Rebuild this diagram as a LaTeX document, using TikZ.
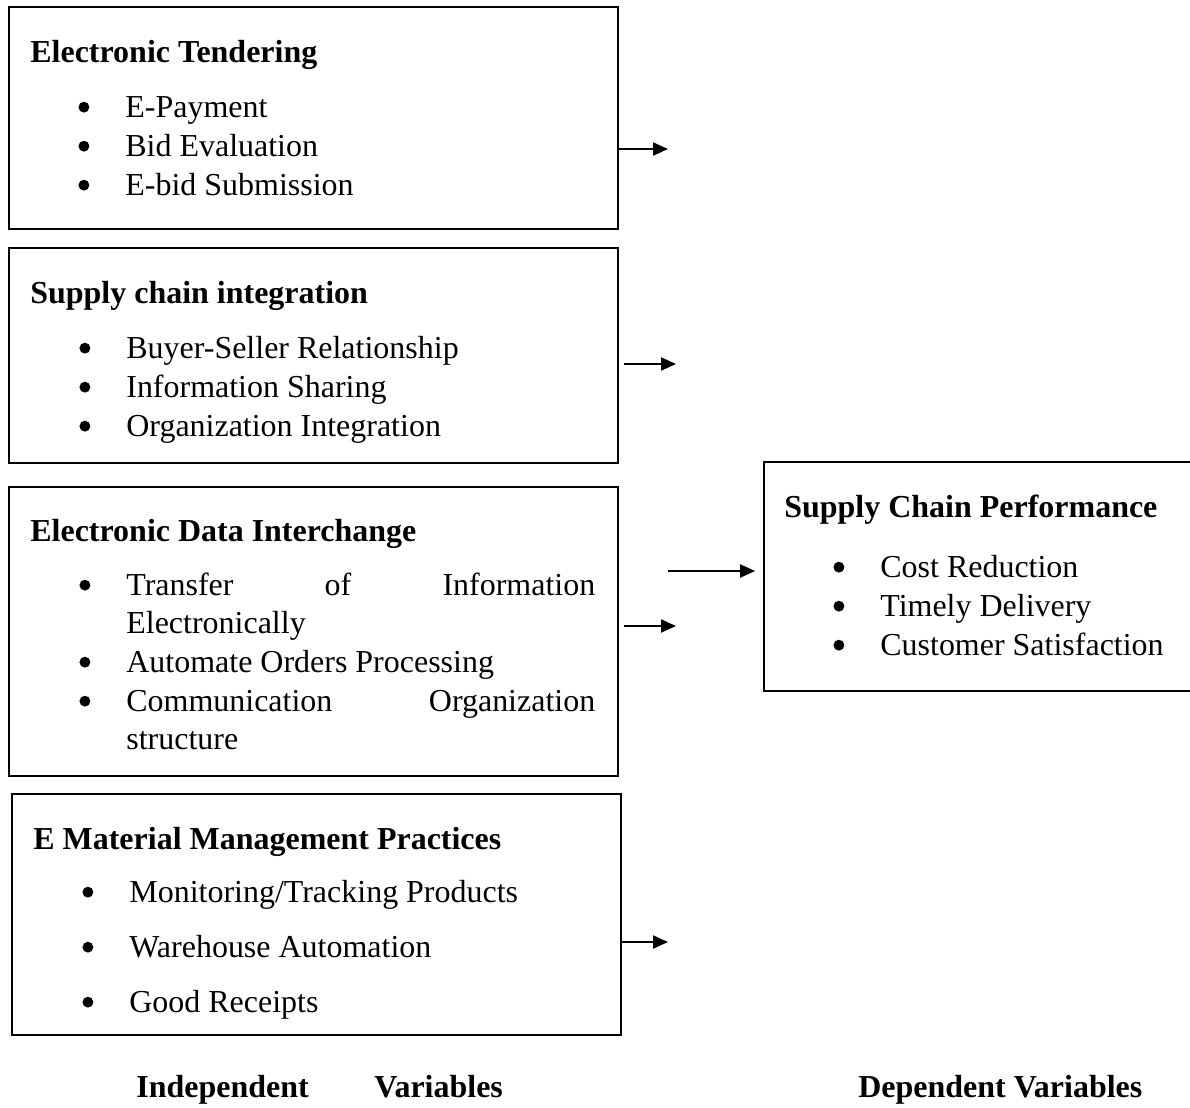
\documentclass[tikz,border=0pt]{standalone}
\usepackage{fontspec}
\setmainfont{Liberation Serif}
\usetikzlibrary{arrows.meta, positioning, fit}
\newcommand{\bul}{\llap{\tikz[baseline=-5.6pt]\fill (0,0) circle (3.1pt);\hspace{0.72cm}}}
\begin{document}
\begin{tikzpicture}[
        x=0.02cm, y=-0.02cm,
        every node/.style={font=\fontsize{18.2}{21.9}\selectfont},
        box/.style={rectangle, draw=black, line width=1pt, inner sep=0pt},
        title/.style={anchor=base west, inner sep=0pt, font=\fontsize{18.2}{21.9}\selectfont\bfseries},
        item/.style={anchor=base west, inner sep=0pt},
        arr/.style={-{Triangle[length=0.3cm, width=0.26cm]}, line width=1.2pt}
    ]
        \useasboundingbox (0,0) rectangle (1190,1107);

        % independent variables
        \node[box, fit={(9,7) (618,229)}] (et) {};
        \node[title] (ettitle) at (30,62) {Electronic Tendering};
        \node[item] (et1) at (125,117) {\bul E-Payment};
        \node[item] (et2) at (125,156) {\bul Bid Evaluation};
        \node[item] (et3) at (125,195) {\bul E-bid Submission};

        \node[box, fit={(9,248) (618,463)}] (sci) {};
        \node[title] (scititle) at (30,303) {Supply chain integration};
        \node[item] (sci1) at (126,358) {\bul Buyer-Seller Relationship};
        \node[item] (sci2) at (126,397) {\bul Information Sharing};
        \node[item] (sci3) at (126,436) {\bul Organization Integration};

        \node[box, fit={(9,487) (618,776)}] (edi) {};
        \node[title] (edititle) at (30,541) {Electronic Data Interchange};
        \node[item] (edi1) at (126,595) {\bul\makebox[9.38cm][s]{Transfer of Information}};
        \node[item] (edi1b) at (126,633) {Electronically};
        \node[item] (edi2) at (126,672) {\bul Automate Orders Processing};
        \node[item] (edi3) at (126,711) {\bul\makebox[9.38cm][s]{Communication Organization}};
        \node[item] (edi3b) at (126,749) {structure};

        \node[box, fit={(12,794) (621,1035)}] (emm) {};
        \node[title] (emmtitle) at (33,849) {E Material Management Practices};
        \node[item] (emm1) at (129,902) {\bul Monitoring/Tracking Products};
        \node[item] (emm2) at (129,957) {\bul Warehouse Automation};
        \node[item] (emm3) at (129,1012) {\bul Good Receipts};

        % dependent variable
        \node[box, fit={(764,462) (1194,691)}] (scp) {};
        \node[title] (scptitle) at (784,517) {Supply Chain Performance};
        \node[item] (scp1) at (880,577) {\bul Cost Reduction};
        \node[item] (scp2) at (880,616) {\bul Timely Delivery};
        \node[item] (scp3) at (880,655) {\bul Customer Satisfaction};

        % arrows
        \coordinate (etend) at (668,149);
        \coordinate (sciend) at (676,364);
        \coordinate (scpstart) at (668,571);
        \coordinate (ediend) at (676,626);
        \coordinate (emmend) at (668,942);
        \draw[arr] (et.east |- etend) -- (etend);
        \draw[arr, shorten <=0.1cm] (sci.east |- sciend) -- (sciend);
        \draw[arr, shorten >=0.16cm] (scpstart) -- (scp.west |- scpstart);
        \draw[arr, shorten <=0.1cm] (edi.east |- ediend) -- (ediend);
        \draw[arr] (emm.east |- emmend) -- (emmend);

        % labels
        \node[title] (indep) at (136,1097) {Independent};
        \node[title] (indepvar) at (374,1097) {Variables};
        \node[title] (dep) at (858,1097) {Dependent Variables};
    \end{tikzpicture}
\end{document}
